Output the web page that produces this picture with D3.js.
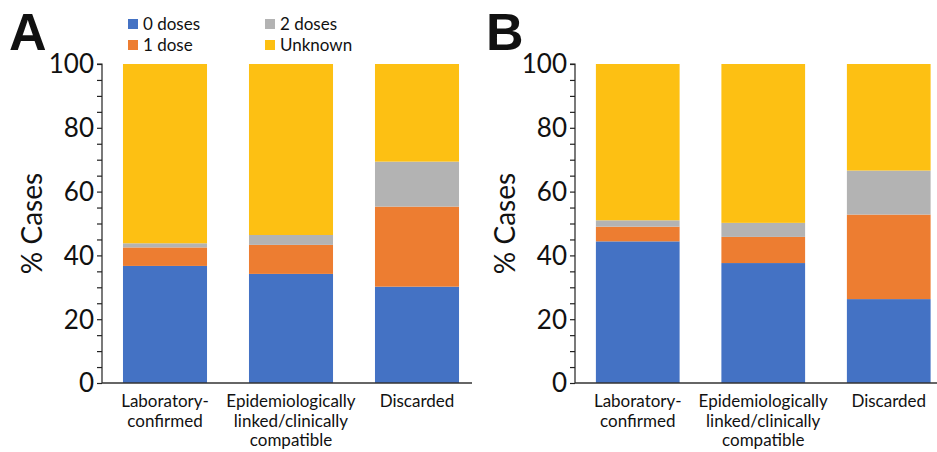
<!DOCTYPE html>
<html><head><meta charset="utf-8">
<script src="https://cdn.jsdelivr.net/npm/d3@7"></script>
<style>
body{margin:0;background:#fff;}
svg{display:block;}
text{font-family:Lato,"Open Sans",sans-serif;fill:#111;}
</style></head>
<body>
<svg id="chart" width="937" height="452"></svg>
<script>
const categories = [["Laboratory-","confirmed"],["Epidemiologically","linked/clinically","compatible"],["Discarded"]];
const seriesNames = ["0 doses","1 dose","2 doses","Unknown"];
const colors = ["#4472c4","#ed7d31","#b3b3b3","#fdc013"];
const panelA_0 = [36.7, 34.2, 30.2];
const panelA_1 = [5.8, 9.1, 25.1];
const panelA_2 = [1.3, 3.1, 14.1];
const panelA_U = [56.2, 53.6, 30.6];
const panelB_0 = [44.4, 37.6, 26.3];
const panelB_1 = [4.6, 8.2, 26.5];
const panelB_2 = [2.0, 4.4, 13.8];
const panelB_U = [49.0, 49.8, 33.4];
const yTicks = [0,20,40,60,80,100];
const yMinor = d3.range(0,101,5);

const svg = d3.select("#chart");

function panel(letter, series, axisX, step, axisEnd, letterX){
  const g = svg.append("g");
  const y = d3.scaleLinear().domain([0,100]).range([383,64]);
  const ids = categories.map((c,i)=>i);
  const x = d3.scaleBand().domain(ids).range([axisX, axisX+3*step]).paddingInner(0.333).paddingOuter(0.1665);
  const rows = ids.map(i => {const o={id:i}; series.forEach((s,k)=>o[k]=s[i]); return o;});
  const stack = d3.stack().keys([0,1,2,3])(rows);
  g.selectAll("g.layer").data(stack).join("g").attr("fill",(d,i)=>colors[i])
    .selectAll("rect").data(d=>d).join("rect")
    .attr("x",d=>x(d.data.id)).attr("width",x.bandwidth())
    .attr("y",d=>y(d[1])).attr("height",d=>y(d[0])-y(d[1]));
  // y axis
  const ax = g.append("g").attr("transform",`translate(${axisX},0)`)
    .call(d3.axisLeft(y).tickValues(yMinor).tickSize(5).tickFormat(""));
  ax.select(".domain").attr("d",`M-5,${y(100)}H0V${y(0)}`).attr("stroke","#222").attr("stroke-width",1.2);
  ax.selectAll(".tick line").attr("stroke","#222").attr("stroke-width",1.2);
  g.selectAll("text.tl").data(yTicks).join("text").attr("class","tl")
    .attr("x",axisX-8).attr("y",d=>y(d)).attr("dy","0.36em").attr("text-anchor","end")
    .attr("font-size",26).text(d=>d);
  // x axis line
  g.append("line").attr("x1",axisX).attr("x2",axisEnd).attr("y1",y(0)).attr("y2",y(0)).attr("stroke","#333").attr("stroke-width",1.5);
  // category labels
  categories.forEach((lines,i)=>{
    const t = g.append("text").attr("text-anchor","middle").attr("font-size",17)
      .attr("x",x(i)+x.bandwidth()/2).attr("y",407);
    lines.forEach((ln,j)=>t.append("tspan").attr("x",x(i)+x.bandwidth()/2).attr("dy",j?19.5:0).text(ln));
  });
  // y label
  g.append("text").attr("transform",`translate(${axisX-60},${y(50)}) rotate(-90)`)
    .attr("text-anchor","middle").attr("font-size",28).text("% Cases");
  // panel letter
  g.append("text").attr("x",letterX).attr("y",50).attr("font-size",52).attr("font-weight","bold")
    .style("font-family","'Liberation Sans',Arial,sans-serif").attr("fill","#000").text(letter);
}

panel("A",[panelA_0,panelA_1,panelA_2,panelA_U],102,126,472,9);
panel("B",[panelB_0,panelB_1,panelB_2,panelB_U],575,125.5,937,486);

// legend
const leg = svg.append("g");
const pos = {0:[128,19],1:[128,40],2:[265,19],3:[265,40]};
[0,1,2,3].forEach(i=>{
  const [lx,ly]=pos[i];
  leg.append("rect").attr("x",lx).attr("y",ly).attr("width",10).attr("height",10).attr("fill",colors[i]);
  leg.append("text").attr("x",lx+15).attr("y",ly+5).attr("dy","0.36em").attr("font-size",17).text(seriesNames[i]);
});
</script>
</body></html>
